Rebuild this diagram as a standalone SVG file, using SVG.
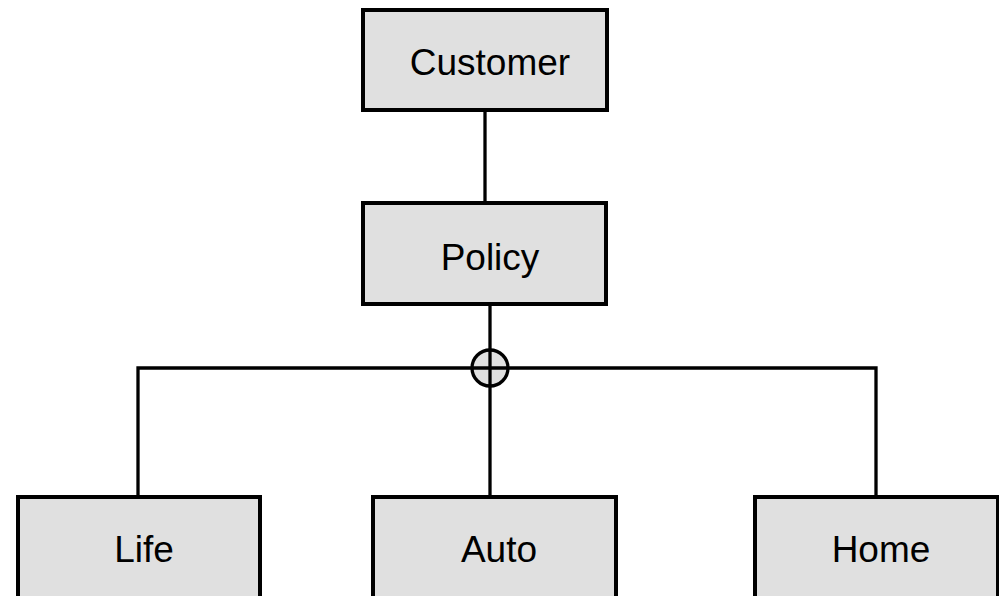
<svg xmlns="http://www.w3.org/2000/svg" width="999" height="596" viewBox="0 0 999 596">
<style>
.box{fill:#e0e0e0;stroke:#000;stroke-width:4}
.lbl{font-family:"Liberation Sans",Arial,sans-serif;font-size:37px;fill:#000;text-anchor:middle}
.ln{fill:none;stroke:#000;stroke-width:3.3}
</style>
<rect width="999" height="596" fill="#fff"/>
<g id="connectors">
<line class="ln" x1="485" y1="110" x2="485" y2="203"/>
<line class="ln" x1="490" y1="304" x2="490" y2="497"/>
<polyline class="ln" points="138,497 138,368 876,368 876,497"/>
<circle cx="490" cy="368" r="18" fill="#e0e0e0" stroke="#000" stroke-width="3.3"/>
<line class="ln" x1="472" y1="368" x2="508" y2="368"/>
<line class="ln" x1="490" y1="350" x2="490" y2="386"/>
</g>
<g id="customer"><rect class="box" x="363" y="10" width="244" height="100"/><text class="lbl" x="490" y="75">Customer</text></g>
<g id="policy"><rect class="box" x="363" y="203" width="243" height="101"/><text class="lbl" x="490" y="270">Policy</text></g>
<g id="life"><rect class="box" x="18" y="497" width="242" height="110"/><text class="lbl" x="144" y="562">Life</text></g>
<g id="auto"><rect class="box" x="373" y="497" width="243" height="110"/><text class="lbl" x="499" y="562">Auto</text></g>
<g id="home"><rect class="box" x="755" y="497" width="243" height="110"/><text class="lbl" x="881" y="562">Home</text></g>
</svg>
